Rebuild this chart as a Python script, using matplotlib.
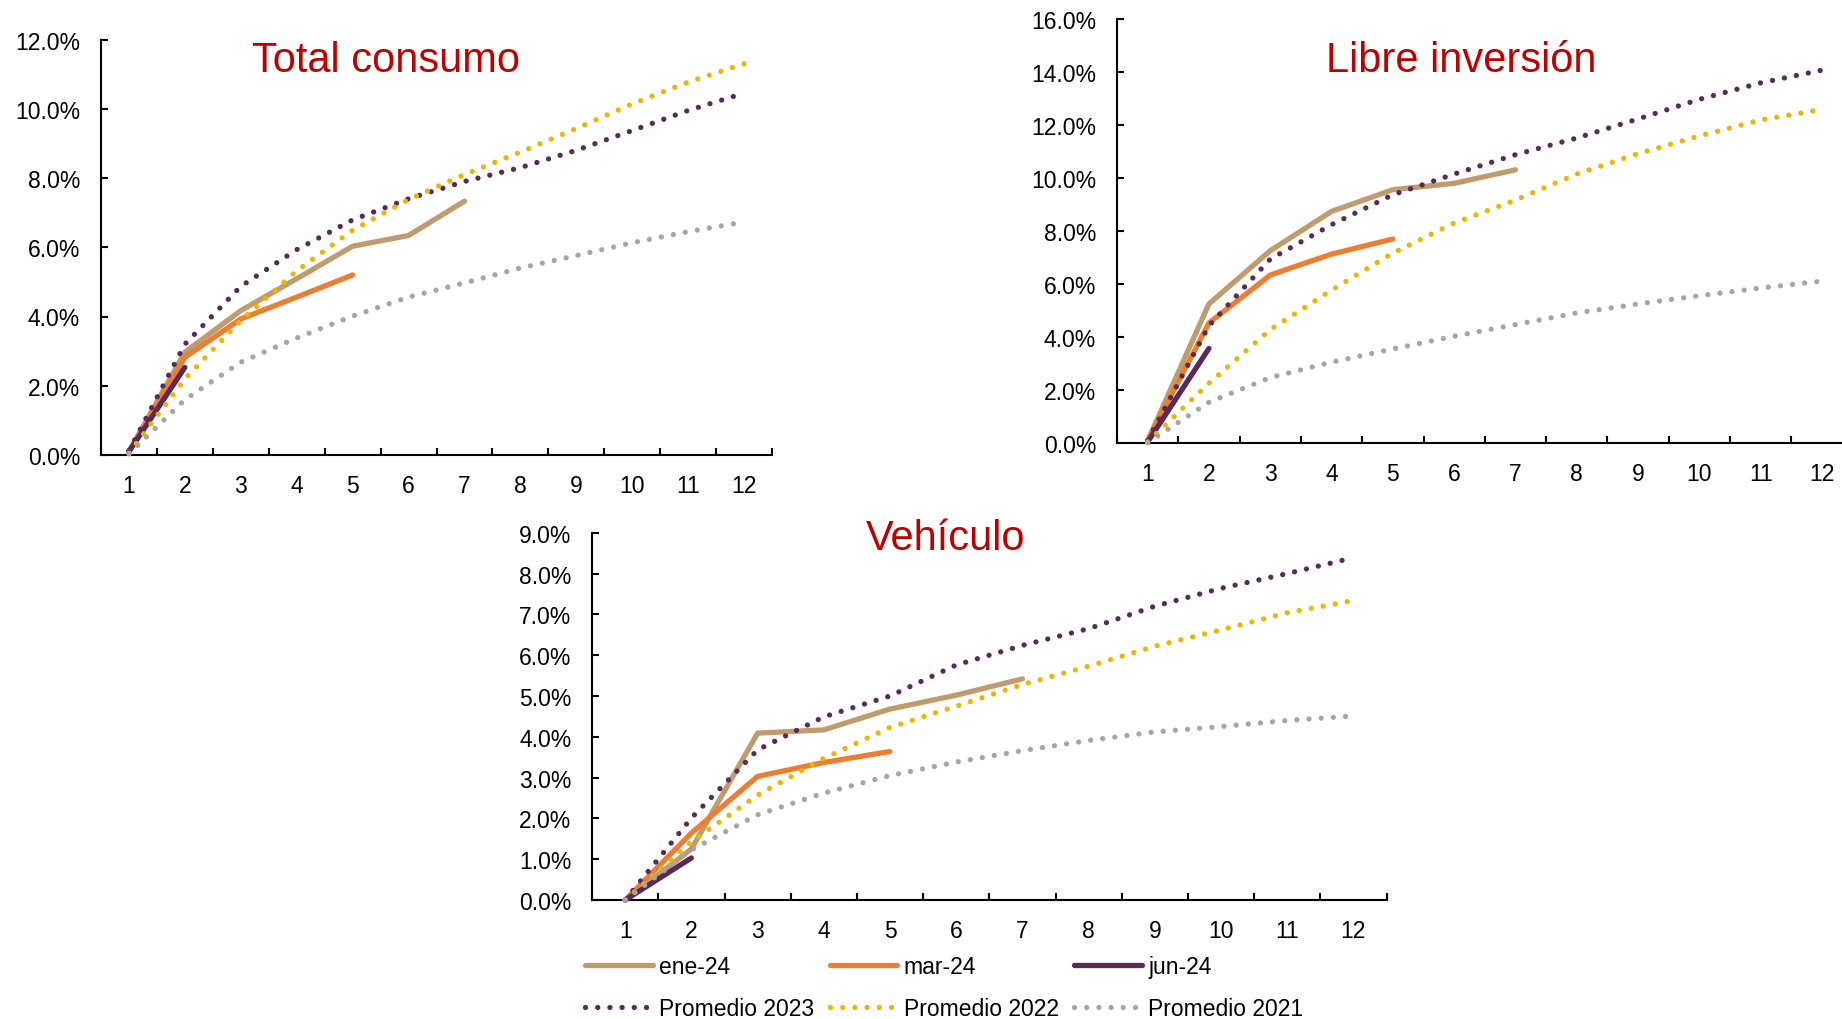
import numpy as np
import matplotlib
matplotlib.use("Agg")
import matplotlib.pyplot as plt
from matplotlib.ticker import FuncFormatter

plt.rcParams["font.family"] = ["Liberation Sans", "DejaVu Sans"]

# meses desde el desembolso
meses = list(range(1, 13))

# Total consumo (%)
tc_ene24 = [0.10, 2.97, 4.17, 5.09, 6.03, 6.34, 7.33]
tc_mar24 = [0.10, 2.82, 3.93, 4.56, 5.20]
tc_jun24 = [0.10, 2.53]
tc_prom23 = [0.12, 3.20, 4.87, 5.93, 6.79, 7.40, 7.90, 8.30, 8.80, 9.37, 9.95, 10.45]
tc_prom22 = [0.05, 2.20, 3.88, 5.32, 6.49, 7.38, 8.10, 8.75, 9.43, 10.14, 10.77, 11.30]
tc_prom21 = [0.03, 1.60, 2.68, 3.38, 4.01, 4.56, 4.97, 5.40, 5.76, 6.13, 6.45, 6.73]

# Libre inversion (%)
li_ene24 = [0.10, 5.26, 7.27, 8.75, 9.57, 9.81, 10.32]
li_mar24 = [0.10, 4.54, 6.35, 7.14, 7.71]
li_jun24 = [0.05, 3.58]
li_prom23 = [0.10, 4.44, 6.95, 8.25, 9.38, 10.16, 10.89, 11.52, 12.24, 12.98, 13.60, 14.08]
li_prom22 = [0.05, 2.27, 4.29, 5.78, 7.18, 8.31, 9.18, 10.16, 10.93, 11.60, 12.20, 12.60]
li_prom21 = [0.02, 1.55, 2.48, 3.06, 3.56, 4.04, 4.48, 4.92, 5.26, 5.57, 5.86, 6.12]

# Vehiculo (%)
ve_ene24 = [0.00, 1.25, 4.09, 4.17, 4.68, 5.02, 5.42]
ve_mar24 = [0.00, 1.64, 3.03, 3.37, 3.64]
ve_jun24 = [0.00, 1.03]
ve_prom23 = [0.00, 2.01, 3.68, 4.49, 5.00, 5.76, 6.24, 6.65, 7.20, 7.64, 8.00, 8.39]
ve_prom22 = [0.00, 1.43, 2.57, 3.47, 4.23, 4.75, 5.28, 5.73, 6.22, 6.62, 7.04, 7.34]
ve_prom21 = [0.00, 1.23, 2.09, 2.62, 3.05, 3.38, 3.66, 3.91, 4.12, 4.25, 4.40, 4.51]

etiquetas = ["ene-24", "mar-24", "jun-24", "Promedio 2023", "Promedio 2022", "Promedio 2021"]
colores = ["#C09B6B", "#ED7D31", "#582A5A", "#582A5A", "#EFB400", "#A5A5A5"]
punteadas = [False, False, False, True, True, True]

ROJO = "#C00000"
FS = 16.5

paneles = [
    ("Total consumo", [tc_ene24, tc_mar24, tc_jun24, tc_prom23, tc_prom22, tc_prom21], 12, 2,
     [101 / 1842, 1 - 456 / 1020, 671 / 1842, 415.5 / 1020], (386, 72)),
    ("Libre inversión", [li_ene24, li_mar24, li_jun24, li_prom23, li_prom22, li_prom21], 16, 2,
     [1117 / 1842, 1 - 444.3 / 1020, 735.6 / 1842, 424 / 1020], (1461, 72)),
    ("Vehículo", [ve_ene24, ve_mar24, ve_jun24, ve_prom23, ve_prom22, ve_prom21], 9, 1,
     [592.1 / 1842, 1 - 901 / 1020, 794.4 / 1842, 367.2 / 1020], (946, 550)),
]

fig = plt.figure(figsize=(18.42, 10.2), dpi=100)

handles = []
for titulo, series, ymax, paso, pos, (tx, ty) in paneles:
    ax = fig.add_axes(pos)
    lineas = []
    for i, valores in enumerate(series):
        x = meses[:len(valores)]
        if punteadas[i]:
            ln, = ax.plot(x, valores, color=colores[i], lw=3.8, linestyle=(0, (0.01, 2.3)),
                          dash_capstyle="round", clip_on=False, zorder=3 + i)
        else:
            ln, = ax.plot(x, valores, color=colores[i], lw=3.8, solid_capstyle="round",
                          solid_joinstyle="round", clip_on=False, zorder=3 + i)
        lineas.append(ln)
    handles = lineas

    ax.set_xlim(0.5, 12.5)
    ax.set_ylim(0, ymax)
    ax.set_xticks(meses)
    ax.set_xticks(np.arange(0.5, 13, 1), minor=True)
    ax.set_yticks(np.arange(0, ymax + 0.001, paso))
    ax.yaxis.set_major_formatter(FuncFormatter(lambda v, _: f"{v:.1f}%"))

    ax.tick_params(axis="x", which="major", length=0, pad=13.5, labelsize=FS)
    ax.tick_params(axis="x", which="minor", direction="in", length=5, width=1.5)
    ax.tick_params(axis="y", direction="in", length=5, width=1.5, pad=15, labelsize=FS)
    for lado in ("top", "right"):
        ax.spines[lado].set_visible(False)
    for lado in ("left", "bottom"):
        ax.spines[lado].set_linewidth(1.5)

    fig.text(tx / 1842, 1 - ty / 1020, titulo, color=ROJO, fontsize=30,
             ha="center", va="baseline")

# the legend fills column by column, so interleave to get two rows of three
orden = [0, 3, 1, 4, 2, 5]
fig.legend([handles[i] for i in orden], [etiquetas[i] for i in orden],
           ncol=3, loc="upper left", bbox_to_anchor=(585 / 1842, 1 - 956 / 1020),
           frameon=False, fontsize=FS, handlelength=2.95, handletextpad=0.27,
           columnspacing=0.69, labelspacing=0.82, borderpad=0, borderaxespad=0)

fig.savefig("out.png", dpi=100)
